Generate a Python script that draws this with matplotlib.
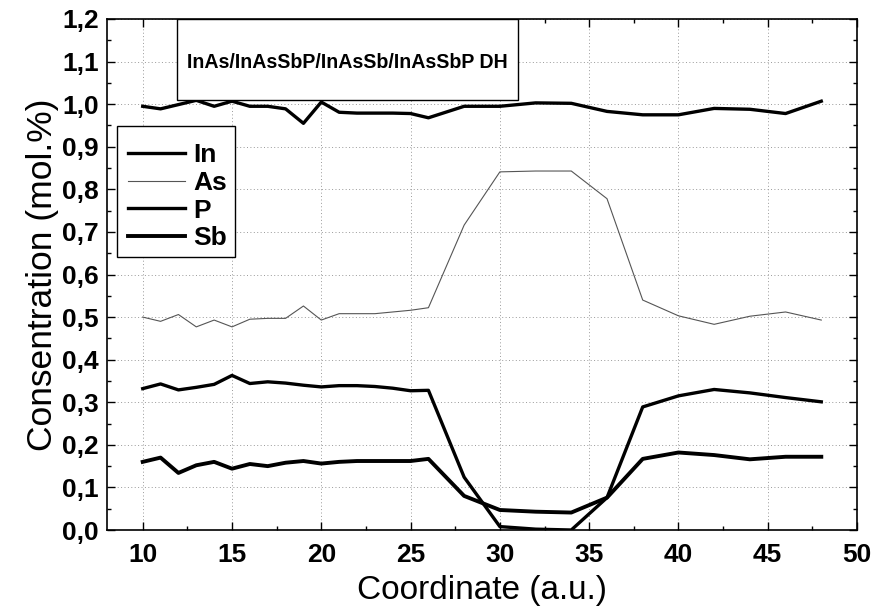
import matplotlib
matplotlib.use("Agg")
import matplotlib.pyplot as plt
from matplotlib.patches import Rectangle
from matplotlib.ticker import MultipleLocator, FixedLocator

plt.rcParams['font.family'] = ['Liberation Sans', 'DejaVu Sans']

coord = [10, 11, 12, 13, 14, 15, 16, 17, 18, 19, 20, 21, 22, 23, 24, 25, 26,
         28, 30, 32, 34, 36, 38, 40, 42, 44, 46, 48]
In = [0.995, 0.989, 0.999, 1.009, 0.995, 1.007, 0.995, 0.995, 0.989, 0.955,
      1.005, 0.981, 0.979, 0.979, 0.979, 0.978, 0.968,
      0.995, 0.995, 1.003, 1.002, 0.983, 0.975, 0.975, 0.990, 0.988, 0.978, 1.007]
As = [0.500, 0.490, 0.506, 0.477, 0.493, 0.477, 0.495, 0.497, 0.497, 0.526,
      0.493, 0.508, 0.508, 0.508, 0.512, 0.516, 0.522,
      0.716, 0.841, 0.843, 0.843, 0.778, 0.540, 0.503, 0.483, 0.502, 0.512, 0.493]
P = [0.332, 0.343, 0.329, 0.335, 0.342, 0.363, 0.344, 0.348, 0.345, 0.340,
     0.336, 0.339, 0.339, 0.337, 0.333, 0.327, 0.328,
     0.124, 0.008, 0.002, 0.000, 0.076, 0.289, 0.315, 0.330, 0.322, 0.311, 0.301]
Sb = [0.160, 0.170, 0.134, 0.152, 0.160, 0.144, 0.155, 0.150, 0.158, 0.162,
      0.156, 0.160, 0.162, 0.162, 0.162, 0.162, 0.167,
      0.080, 0.047, 0.043, 0.041, 0.076, 0.167, 0.182, 0.176, 0.166, 0.172, 0.172]

x_ticks = [10, 15, 20, 25, 30, 35, 40, 45, 50]
y_ticks = [0.0, 0.1, 0.2, 0.3, 0.4, 0.5, 0.6, 0.7, 0.8, 0.9, 1.0, 1.1, 1.2]
y_tick_labels = ['0,0', '0,1', '0,2', '0,3', '0,4', '0,5', '0,6', '0,7',
                 '0,8', '0,9', '1,0', '1,1', '1,2']
title_text = 'InAs/InAsSbP/InAsSb/InAsSbP DH'

fig = plt.figure(figsize=(8.74, 6.11), dpi=100)
ax = fig.add_axes([107/874, 81/611, 750/874, 511/611])

ax.plot(coord, In, color='black', lw=2.4, label='In', zorder=3)
ax.plot(coord, As, color='#555555', lw=0.8, label='As', zorder=3)
ax.plot(coord, P, color='black', lw=2.4, label='P', zorder=3)
ax.plot(coord, Sb, color='black', lw=2.8, label='Sb', zorder=3)

ax.set_xlim(8, 50)
ax.set_ylim(0, 1.2)
ax.xaxis.set_major_locator(FixedLocator(x_ticks))
ax.xaxis.set_minor_locator(MultipleLocator(2.5))
ax.set_yticks(y_ticks)
ax.set_yticklabels(y_tick_labels)
ax.yaxis.set_minor_locator(MultipleLocator(0.05))
ax.tick_params(which='both', direction='in', top=True, right=True, width=1)
ax.tick_params(which='major', length=6, labelsize=19)
ax.tick_params(axis='x', which='major', pad=9)
ax.tick_params(axis='y', which='major', pad=6)
ax.tick_params(which='minor', length=3)
for lab in ax.get_xticklabels() + ax.get_yticklabels():
    lab.set_fontweight('bold')
for s in ax.spines.values():
    s.set_linewidth(1.2)

ax.grid(True, which='major', color='#999999', lw=0.7, linestyle=(0, (1, 2.5)))

ax.set_xlabel('Coordinate (a.u.)', fontsize=24, labelpad=6)
ax.set_ylabel('Consentration (mol.%)', fontsize=25.5, labelpad=2)

# title box
ax.add_patch(Rectangle((0.0933, 0.8415), 0.455, 0.1585, transform=ax.transAxes,
                       facecolor='white', edgecolor='black', lw=1.0, zorder=5))
ax.text(0.0933 + 0.455 / 2, 0.8415 + 0.1585 / 2 - 0.005, title_text,
        transform=ax.transAxes, ha='center', va='center', fontsize=14.1,
        fontweight='bold', zorder=6)

# legend frame
ax.add_patch(Rectangle((0.0133, 0.534), 0.1574, 0.2566, transform=ax.transAxes,
                       facecolor='white', edgecolor='black', lw=1.0, zorder=5))
leg = ax.legend(loc='upper left', bbox_to_anchor=(0.028, 0.757),
                borderaxespad=0, borderpad=0, frameon=False,
                handlelength=2.16, handletextpad=0.3, labelspacing=0.14,
                prop={'weight': 'bold', 'size': 19})
leg.set_zorder(6)

fig.savefig('out.png', dpi=100)
